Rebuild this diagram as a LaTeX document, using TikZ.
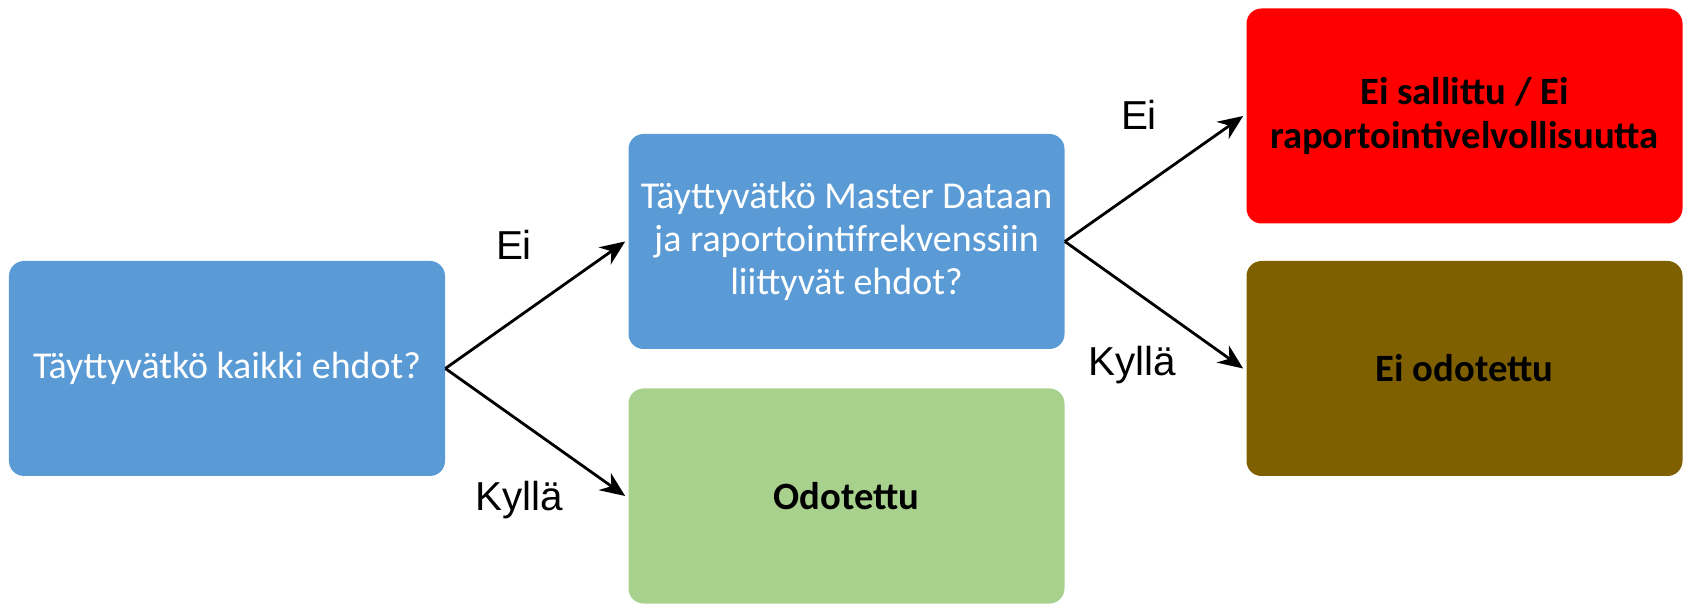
\documentclass[tikz,border=0pt]{standalone}
\usepackage{fontspec}
\setmainfont{Carlito}
\newfontfamily\arialfont{Liberation Sans}
\usetikzlibrary{positioning}
\usetikzlibrary{arrows.meta}

\definecolor{kysymys}{HTML}{5B9BD5}
\definecolor{odotettu}{HTML}{A9D18E}
\definecolor{kielletty}{HTML}{FF0000}
\definecolor{eiodotettu}{HTML}{7F6000}

\begin{document}
\begin{tikzpicture}[
					box/.style = {rectangle, rounded corners = 0.3cm, minimum width = 8.72cm, minimum height = 4.3cm, align = center},
					question/.style = {box, fill = kysymys, text = white, font = \fontsize{21.6}{24.5}\selectfont},
					answer/.style = {box, font = \fontsize{22}{25}\selectfont\bfseries, text = black},
					branch/.style = {black, line width = 1.6pt, -{Stealth[length = 0.5cm, width = 0.42cm]}},
					choice/.style = {font = \arialfont\fontsize{23}{26}\selectfont}]
					\useasboundingbox (0, 0) rectangle (33.7, 12.06);
					\node [question] (kaikki) at (4.54, 4.69) {Täyttyvätkö kaikki ehdot?};
					\node [question] (master) at (16.93, 7.23) {Täyttyvätkö Master Dataan\\ja raportointifrekvenssiin\\liittyvät ehdot?};
					\node [answer, fill = odotettu] (odot) at (16.93, 2.14) {Odotettu};
					\node [answer, fill = kielletty] (sallittu) at (29.29, 9.74) {Ei sallittu / Ei\\raportointivelvollisuutta};
					\node [answer, fill = eiodotettu] (eiodot) at (29.29, 4.69) {Ei odotettu};
					\draw [branch] (kaikki.east) -- ([xshift = -0.06cm] master.west);
					\draw [branch] (kaikki.east) -- ([xshift = -0.06cm] odot.west);
					\draw [branch] (master.east) -- ([xshift = -0.06cm] sallittu.west);
					\draw [branch] (master.east) -- ([xshift = -0.06cm] eiodot.west);
					\node [choice] (ei1) at (10.28, 7.16) {Ei};
					\node [choice] (kylla1) at (10.38, 2.06) {Kyllä};
					\node [choice] (ei2) at (22.78, 9.76) {Ei};
					\node [choice] (kylla2) at (22.64, 4.76) {Kyllä};
				\end{tikzpicture}
\end{document}
